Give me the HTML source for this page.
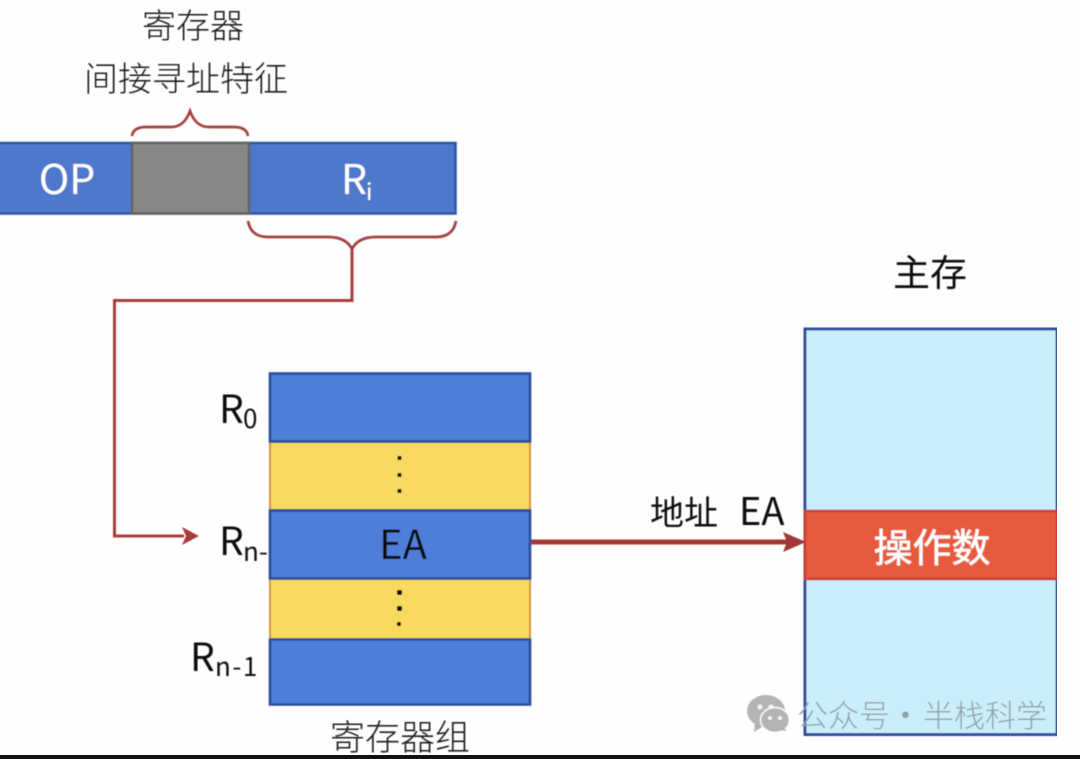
<!DOCTYPE html>
<html lang="zh">
<head>
<meta charset="utf-8">
<style>
html,body{margin:0;padding:0;background:#fff}
svg{display:block}
text{font-family:"Noto Sans CJK SC","Liberation Sans",sans-serif}
</style>
</head>
<body>
<svg width="1080" height="759" viewBox="0 0 1080 759" xmlns="http://www.w3.org/2000/svg">
<defs><filter id="b" x="0" y="0" width="100%" height="100%"><feGaussianBlur stdDeviation="0.45"/></filter></defs>
<rect width="1080" height="759" fill="#fefefe"/>
<g filter="url(#b)">
<!-- Labels top -->
<text x="193" y="38" font-size="34" text-anchor="middle" fill="#1a1a1a" font-weight="300">寄存器</text>
<text x="186" y="91" font-size="34" text-anchor="middle" fill="#1a1a1a" font-weight="300">间接寻址特征</text>

<!-- Instruction bar -->
<rect x="-3" y="143" width="458.500" height="70.500" fill="#4d78cc" stroke="#2f55a4" stroke-width="2.500"/>
<rect x="132" y="143" width="117" height="70.500" fill="#878886" stroke="#626462" stroke-width="2.500"/>
<text x="67" y="194" font-size="41" text-anchor="middle" fill="#fff">OP</text>
<text x="341" y="194" font-size="41" fill="#fff">R</text>
<text x="366" y="200" font-size="23" fill="#fff">i</text>

<!-- Braces -->
<path d="M132 136 C133 129 139 127 146 127 L171 127 C180 127 186 122 190 111 C194 122 200 127 209 127 L234 127 C241 127 247 129 248 136" fill="none" stroke="#a5413f" stroke-width="2.700"/>
<path d="M248 221 C250 232 257 237 268 237 L328 237 C340 237 348 241 352 249 C356 241 364 237 376 237 L436 237 C447 237 454 232 456 221" fill="none" stroke="#a5413f" stroke-width="2.700"/>

<!-- Connector -->
<path d="M352 247 L352 300.500 L114.500 300.500 L114.500 536 L184 536" fill="none" stroke="#a93c3a" stroke-width="3"/>
<path d="M182 527 L199 536 L182 545 L186 536 Z" fill="#a93c3a"/>

<!-- Register group -->
<rect x="270" y="442" width="260" height="68" fill="#f8da60" stroke="#d8963c" stroke-width="2"/>
<rect x="270" y="579" width="260" height="60" fill="#f8da60" stroke="#d8963c" stroke-width="2"/>
<rect x="270" y="373.500" width="260" height="68" fill="#4f7ed9" stroke="#2b4e9c" stroke-width="2.600"/>
<rect x="270" y="510.500" width="260" height="68" fill="#4f7ed9" stroke="#2b4e9c" stroke-width="2.600"/>
<rect x="270" y="639.500" width="260" height="65" fill="#4f7ed9" stroke="#2b4e9c" stroke-width="2.600"/>

<rect x="397.500" y="456" width="4" height="4" fill="#111"/>
<rect x="397.500" y="473" width="4" height="4" fill="#111"/>
<rect x="397.500" y="489" width="4" height="4" fill="#111"/>
<rect x="397" y="590" width="5" height="5" fill="#111"/>
<rect x="397" y="606" width="5" height="5" fill="#111"/>
<rect x="397" y="622" width="4" height="4" fill="#111"/>

<text x="403" y="559" font-size="40" text-anchor="middle" fill="#111">EA</text>

<!-- Register labels -->
<text x="219" y="423" font-size="39" fill="#111">R</text>
<text x="243" y="428" font-size="26" fill="#111">0</text>
<text x="219" y="555" font-size="39" fill="#111">R</text>
<text x="243" y="561" font-size="26" fill="#111">n-</text>
<text x="190" y="671" font-size="39" fill="#111">R</text>
<text x="215" y="676" font-size="26" fill="#111" letter-spacing="1.500">n-1</text>

<text x="400" y="750" font-size="35" text-anchor="middle" fill="#1a1a1a" font-weight="300">寄存器组</text>

<!-- Main memory -->
<text x="930" y="286" font-size="37" text-anchor="middle" fill="#111">主存</text>
<rect x="805" y="329" width="252" height="405.500" fill="#cbeefb" stroke="#2d4d9c" stroke-width="3"/>
<rect x="805" y="511" width="252" height="68" fill="#e85a3e" stroke="#cf3f30" stroke-width="2.500"/>
<text x="932" y="562" font-size="39" text-anchor="middle" fill="#fff" stroke="#fff" stroke-width="0.500">操作数</text>

<!-- EA arrow -->
<path d="M531 542 L788 542" stroke="#a23734" stroke-width="5" fill="none"/>
<path d="M783 532 L806 542 L783 552 L787 542 Z" fill="#a23734"/>
<text x="650" y="525" font-size="34" fill="#111">地址</text>
<text x="739" y="525" font-size="38" fill="#111">EA</text>

<!-- Watermark -->
<ellipse cx="766" cy="711" rx="19" ry="16" fill="#b4b4b4"/>
<path d="M755 722 L754 732 L765 725 Z" fill="#b4b4b4"/>
<circle cx="760" cy="707" r="2.500" fill="#f4f4f4"/>
<circle cx="771" cy="707" r="2.500" fill="#f4f4f4"/>
<ellipse cx="775" cy="720" rx="14.500" ry="12.500" fill="#b4b4b4" stroke="#fefefe" stroke-width="1.500"/>
<path d="M778 730 L786 731 L784 725 Z" fill="#b4b4b4"/>
<circle cx="770" cy="718" r="2" fill="#f4f4f4"/>
<circle cx="780" cy="718" r="2" fill="#f4f4f4"/>
<text x="797" y="727" font-size="31" fill="#8fa0a6" font-weight="300">公众号</text>
<text x="890" y="727" font-size="31" fill="#8fa0a6">·</text>
<text x="923" y="727" font-size="31" fill="#8fa0a6" font-weight="300">半栈科学</text>
</g>

<!-- Bottom edge -->
<rect x="0" y="755" width="1080" height="4" fill="#111"/>
</svg>
</body>
</html>
